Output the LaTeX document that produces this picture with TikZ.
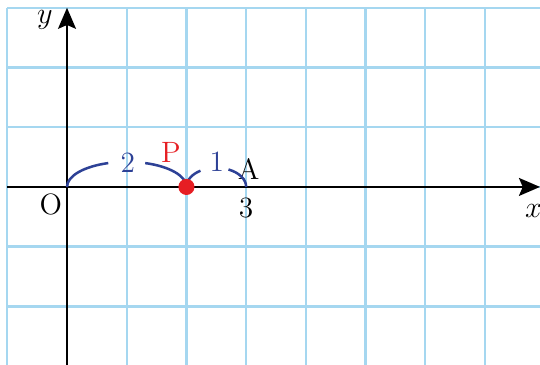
\documentclass[tikz,border=0pt]{standalone}
\usepackage{tikz}
\usetikzlibrary{arrows.meta}

\definecolor{gridblue}{RGB}{165,215,240}
\definecolor{arcblue}{RGB}{45,65,150}
\definecolor{ptred}{RGB}{230,30,35}

\begin{document}
\begin{tikzpicture}[scale=1.0,
    gridline/.style={gridblue, line width=1.1pt},
    axis/.style={-{Stealth[length=10pt, width=8.5pt, inset=1.8pt]}, line width=1.2pt},
    jump/.style={arcblue, line width=1.2pt},
    seglabel/.style={arcblue, font=\fontsize{14}{16}\selectfont},
    ptlabel/.style={font=\fontsize{14}{16}\selectfont},
    dot/.style={circle, fill=ptred, inner sep=0pt, minimum size=0.27cm}]
  \useasboundingbox (-1.122,-2.98) rectangle (7.92,3.13);

  % Grid
  \foreach \x in {-1,...,7}
    \draw[gridline] (\x,3) -- (\x,-2.98);
  \foreach \y in {-2,...,3}
    \draw[gridline] (-1,\y) -- (7.92,\y);

  % Axes
  \draw[axis] (-1,0) -- (7.92,0);
  \draw[axis] (0,-2.98) -- (0,3);
  \node[ptlabel] (xlab) at (7.81,-0.40) {$x$};
  \node[ptlabel] (ylab) at (-0.37,2.80) {$y$};

  % Points on the axis
  \coordinate (O) at (0,0);
  \coordinate (P) at (2,0);
  \coordinate (A) at (3,0);
  \node[ptlabel] (Olab) at (-0.27,-0.30) {O};
  \node[ptlabel] (threelab) at (3.0,-0.36) {3};
  \node[ptlabel] (Alab) at (3.04,0.30) {A};

  % Distances O-P and P-A
  \draw[jump] (O) arc[start angle=180, end angle=108, x radius=1, y radius=0.42];
  \draw[jump] (P) arc[start angle=0, end angle=72, x radius=1, y radius=0.42];
  \node[seglabel] (twolab) at (1.02,0.41) {2};
  \draw[jump] (P) arc[start angle=180, end angle=122, x radius=0.5, y radius=0.32];
  \draw[jump] (A) arc[start angle=0, end angle=66, x radius=0.5, y radius=0.32];
  \node[seglabel] (onelab) at (2.51,0.42) {1};

  % Point P
  \node[dot] (Pdot) at (P) {};
  \node[ptlabel, ptred] (Plab) at (1.74,0.57) {P};
\end{tikzpicture}
\end{document}
